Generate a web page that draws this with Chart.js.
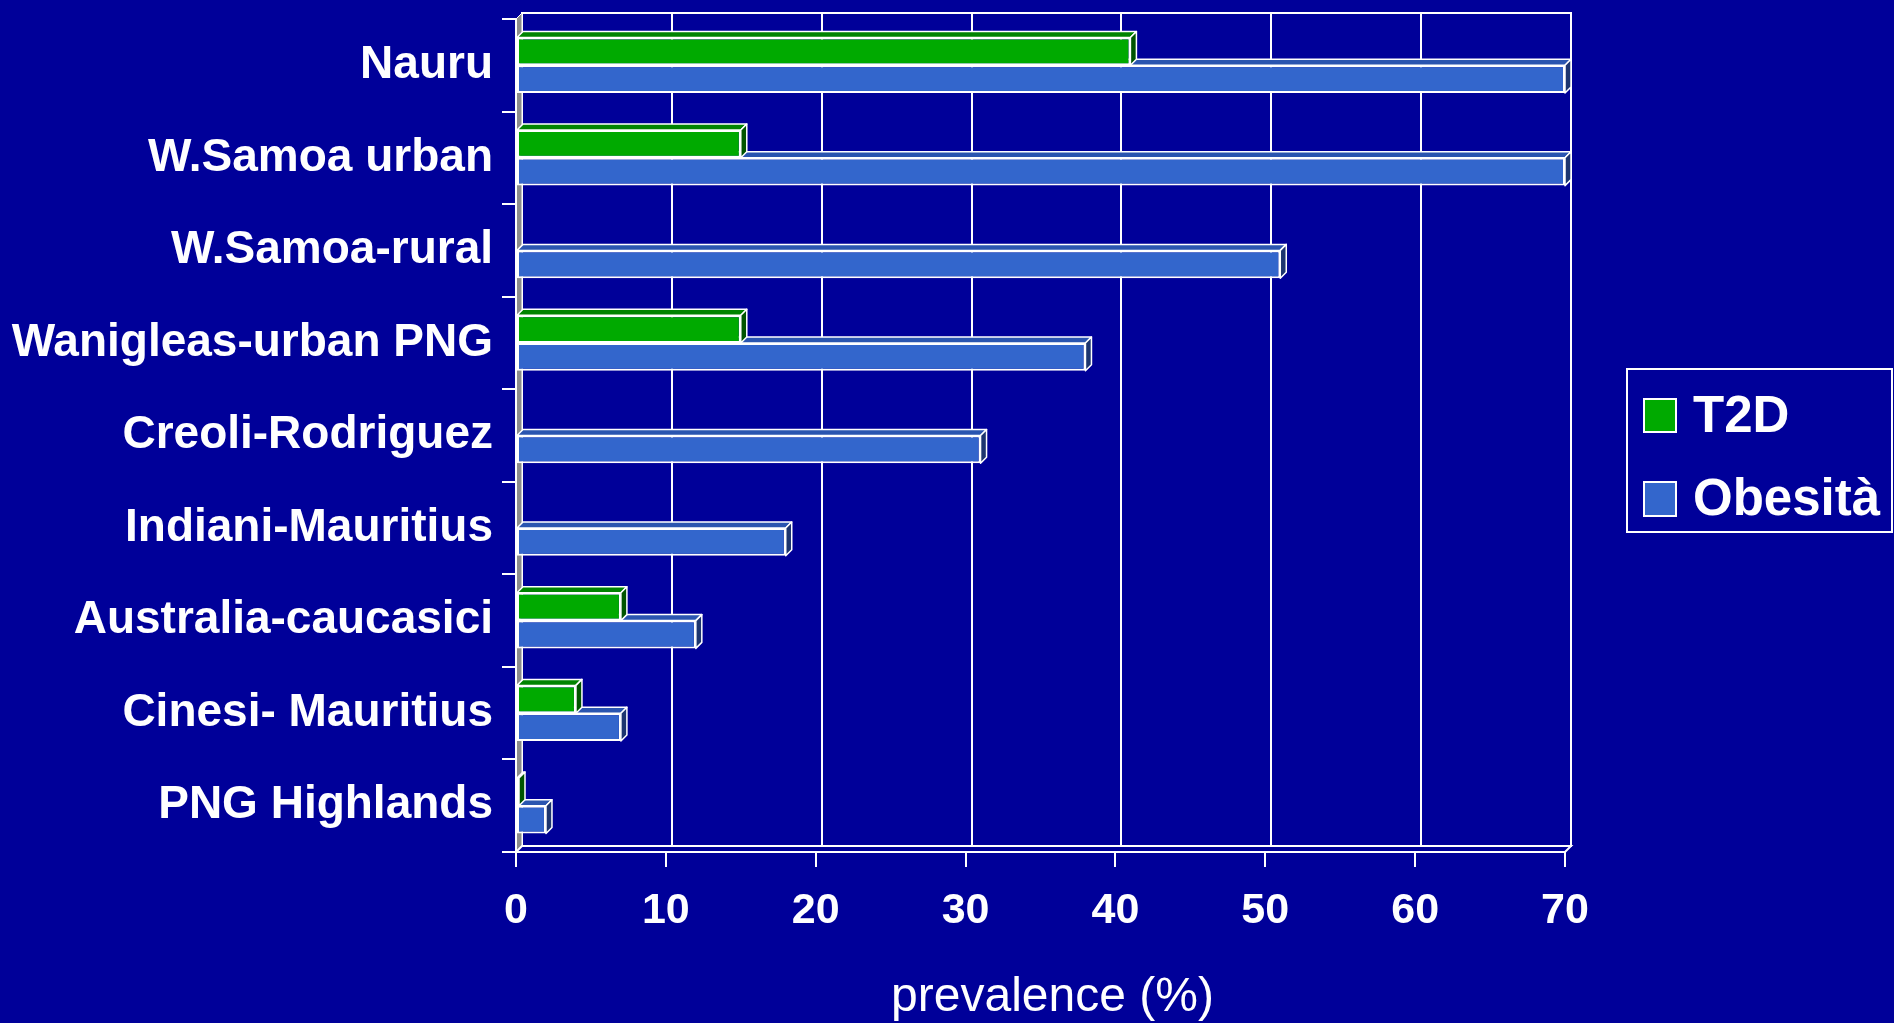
<!DOCTYPE html>
<html>
<head>
<meta charset="utf-8">
<title>Prevalenza T2D e obesità</title>
<script src="https://cdn.jsdelivr.net/npm/chart.js@4.4.1/dist/chart.umd.min.js"></script>
<style>
  html, body { margin: 0; padding: 0; background: #000099; overflow: hidden; }
  #wrap { position: relative; width: 1894px; height: 1023px; }
</style>
</head>
<body>
<div id="wrap"><canvas id="chart" width="1894" height="1023"></canvas></div>
<script>
// Populations, top to bottom
const categories = [
  'Nauru',
  'W.Samoa urban',
  'W.Samoa-rural',
  'Wanigleas-urban PNG',
  'Creoli-Rodriguez',
  'Indiani-Mauritius',
  'Australia-caucasici',
  'Cinesi- Mauritius',
  'PNG Highlands'
];

// Prevalence (%) per population
const t2dValues     = [41, 15, 0, 15, 0, 0, 7, 4, 0.2];
const obesityValues = [70, 70, 51, 38, 31, 18, 12, 7, 2];

// Value axis ticks
const xTickValues = [0, 10, 20, 30, 40, 50, 60, 70];

const seriesNames = ['T2D', 'Obesità'];
const frontColors = ['#00AA00', '#3366CC'];
const topColors   = ['#008400', '#2A55B0'];
const sideColors  = ['#005400', '#1D3570'];

const BG = '#000099';
const LINE = '#FFFFFF';
const FONT = "'Liberation Sans', Arial, Helvetica, sans-serif";
// depth offset of the 3D box (back plane relative to front plane)
const DX = 6, DY = -6;

Chart.defaults.font.family = FONT;

function poly(ctx, pts, fill, stroke, lw) {
  ctx.beginPath();
  ctx.moveTo(pts[0][0], pts[0][1]);
  for (let i = 1; i < pts.length; i++) ctx.lineTo(pts[i][0], pts[i][1]);
  ctx.closePath();
  if (fill) { ctx.fillStyle = fill; ctx.fill(); }
  if (stroke) { ctx.strokeStyle = stroke; ctx.lineWidth = lw || 1; ctx.stroke(); }
}

const depthPlugin = {
  id: 'depth3d',
  beforeDraw(chart) {
    const { ctx, chartArea: a, scales: { x } } = chart;
    ctx.save();
    ctx.fillStyle = BG;
    ctx.fillRect(0, 0, chart.width, chart.height);

    // back wall
    ctx.strokeStyle = LINE;
    ctx.lineWidth = 2;
    ctx.strokeRect(a.left + DX, a.top + DY, a.right - a.left, a.bottom - a.top);

    // vertical grid lines on the back wall
    x.ticks.forEach(t => {
      const px = Math.round(x.getPixelForValue(t.value)) + DX;
      ctx.beginPath();
      ctx.moveTo(px, a.top + DY);
      ctx.lineTo(px, a.bottom + DY);
      ctx.stroke();
    });

    // left side wall
    poly(ctx, [[a.left, a.top], [a.left + DX, a.top + DY], [a.left + DX, a.bottom + DY], [a.left, a.bottom]],
      '#8C8C8C', LINE, 1);

    // floor
    poly(ctx, [[a.left, a.bottom], [a.left + DX, a.bottom + DY], [a.right + DX, a.bottom + DY], [a.right, a.bottom]],
      BG, LINE, 2);
    ctx.restore();
  },
  beforeDatasetsDraw(chart) {
    const { ctx } = chart;
    ctx.save();
    ctx.lineJoin = 'round';
    // lower series first so the upper bar's side face sits over it
    for (let d = chart.data.datasets.length - 1; d >= 0; d--) {
      const meta = chart.getDatasetMeta(d);
      meta.data.forEach((el, i) => {
        const v = chart.data.datasets[d].data[i];
        if (!v) return;
        const p = el.getProps(['x', 'y', 'base', 'height'], true);
        const l = Math.min(p.x, p.base), r = Math.max(p.x, p.base);
        const t = p.y - p.height / 2, b = p.y + p.height / 2;
        poly(ctx, [[l, t], [l + DX, t + DY], [r + DX, t + DY], [r, t]], topColors[d], LINE, 1.5);
        poly(ctx, [[r, t], [r + DX, t + DY], [r + DX, b + DY], [r, b]], sideColors[d], LINE, 1.5);
      });
    }
    ctx.restore();
  },
  afterDraw(chart) {
    const { ctx, chartArea: a, scales: { x } } = chart;
    ctx.save();

    // value axis title, centred under the back wall
    ctx.fillStyle = '#FFFFFF';
    ctx.font = 'normal 48px ' + FONT;
    ctx.textAlign = 'center';
    ctx.textBaseline = 'middle';
    ctx.fillText(x.options.title.text, (a.left + a.right) / 2 + 12, 998);

    // boxed legend on the right
    ctx.strokeStyle = LINE;
    ctx.lineWidth = 2;
    ctx.strokeRect(1627, 369, 265, 163);
    const rows = [{ y: 399, h: 33, base: 432 }, { y: 482, h: 34, base: 515 }];
    chart.data.datasets.forEach((ds, i) => {
      const r = rows[i];
      ctx.fillStyle = ds.backgroundColor;
      ctx.fillRect(1644, r.y, 32, r.h);
      ctx.strokeStyle = LINE;
      ctx.lineWidth = 2;
      ctx.strokeRect(1644, r.y, 32, r.h);
      ctx.fillStyle = '#FFFFFF';
      ctx.font = 'bold 51px ' + FONT;
      ctx.textBaseline = 'alphabetic';
      ctx.textAlign = 'left';
      ctx.fillText(ds.label, 1693, r.base);
    });
    ctx.restore();
  }
};

const barStyle = {
  borderColor: LINE,
  borderWidth: 2,
  borderSkipped: false,
  categoryPercentage: 0.6,
  barPercentage: 1.0
};

new Chart(document.getElementById('chart'), {
  type: 'bar',
  data: {
    labels: categories,
    datasets: [
      Object.assign({ label: seriesNames[0], data: t2dValues, backgroundColor: frontColors[0] }, barStyle),
      Object.assign({ label: seriesNames[1], data: obesityValues, backgroundColor: frontColors[1] }, barStyle)
    ]
  },
  options: {
    indexAxis: 'y',
    responsive: false,
    animation: false,
    devicePixelRatio: 1,
    layout: { padding: { top: 19, right: 329, bottom: 0, left: 0 } },
    plugins: {
      legend: { display: false },
      tooltip: { enabled: false }
    },
    scales: {
      x: {
        type: 'linear',
        min: 0,
        max: 70,
        afterBuildTicks(scale) { scale.ticks = xTickValues.map(v => ({ value: v })); },
        ticks: {
          color: '#FFFFFF',
          padding: 18,
          font: { size: 43, weight: 'bold' }
        },
        grid: { drawOnChartArea: false, drawTicks: true, tickLength: 15, color: LINE, lineWidth: 2 },
        border: { display: true, color: LINE, width: 2 },
        title: { display: false, text: 'prevalence (%)' },
        afterFit(scale) { scale.height = 171; }
      },
      y: {
        type: 'category',
        ticks: {
          color: '#FFFFFF',
          padding: 9,
          font: { size: 46, weight: 'bold' }
        },
        grid: { drawOnChartArea: false, drawTicks: true, tickLength: 14, color: LINE, lineWidth: 2, offset: true },
        border: { display: true, color: LINE, width: 2 },
        afterFit(scale) {
          scale.width = 516;
          scale.paddingTop = 0;
          scale.paddingBottom = 0;
        }
      }
    }
  },
  plugins: [depthPlugin]
});
</script>
</body>
</html>
